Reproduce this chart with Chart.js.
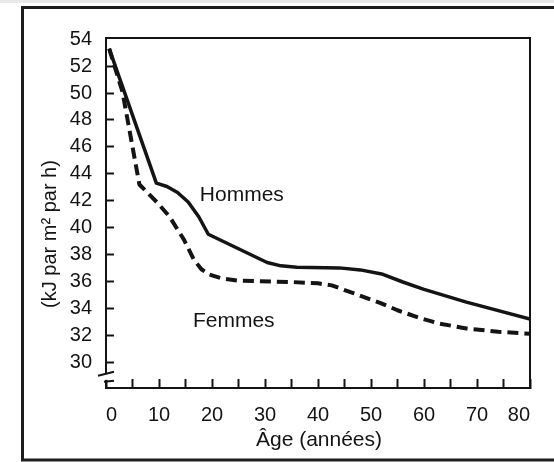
<!DOCTYPE html>
<html lang="fr">
<head>
<meta charset="utf-8">
<script src="https://cdn.jsdelivr.net/npm/chart.js@4.4.1/dist/chart.umd.min.js"></script>
<style>
  html, body { margin: 0; padding: 0; background: #fff; }
  canvas { display: block; }
</style>
</head>
<body>
<canvas id="metabolisme" width="554" height="462"></canvas>
<script>
// metabolisme de base selon l'age
const hommesAge = [0.6, 9.5, 11.5, 13.5, 15.5, 17.5, 19.3, 30.4, 33, 36, 44, 48, 52, 56, 60, 68, 80];
const hommesKJ  = [53.3, 43.3, 43.05, 42.6, 41.9, 40.8, 39.5, 37.4, 37.15, 37.05, 37.0, 36.85, 36.55, 35.95, 35.4, 34.45, 33.2];
const femmesAge = [0.6, 3.1, 6.3, 9.8, 12, 14.7, 16.6, 18, 19.5, 22, 25, 35, 40, 42.6, 46.8, 51.7, 55, 59, 63, 68, 74, 80];
const femmesKJ  = [53.3, 50.1, 43.2, 41.8, 40.8, 39.1, 37.6, 36.9, 36.5, 36.2, 36.05, 35.95, 35.85, 35.7, 35.1, 34.4, 33.85, 33.3, 32.85, 32.5, 32.25, 32.1];

const ageLabels = [0, 10, 20, 30, 40, 50, 60, 70, 80];
const kjLabels  = [30, 32, 34, 36, 38, 40, 42, 44, 46, 48, 50, 52, 54];

const INK = '#141414';
const FONT = '"Liberation Sans", Arial, Helvetica, sans-serif';

function points(xs, ys) {
    return xs.map((x, i) => ({ x: x, y: ys[i] }));
}

const decor = {
    id: 'decor',
    beforeDraw(chart) {
        const ctx = chart.ctx;
        ctx.save();
        ctx.fillStyle = '#fff';
        ctx.fillRect(0, 0, chart.width, chart.height);
        ctx.restore();
    },
    afterDraw(chart) {
        const ctx = chart.ctx;
        const a = chart.chartArea;
        const xs = chart.scales.x, ys = chart.scales.y;
        ctx.save();

        // faint smear along the top edge
        ctx.fillStyle = '#e8e8e8';
        ctx.fillRect(0, 0, chart.width, 3);

        // outer frame (open on the right)
        ctx.strokeStyle = '#1c1c1c';
        ctx.lineWidth = 3;
        ctx.beginPath();
        ctx.moveTo(chart.width, 7.5);
        ctx.lineTo(22.5, 7.5);
        ctx.lineTo(22.5, 460);
        ctx.lineTo(chart.width, 460);
        ctx.stroke();

        // top and right sides of the plot box
        ctx.strokeStyle = INK;
        ctx.lineWidth = 2;
        ctx.beginPath();
        ctx.moveTo(a.left, a.top);
        ctx.lineTo(a.right, a.top);
        ctx.lineTo(a.right, a.bottom);
        ctx.stroke();

        // axis break between 30 and the origin
        const yb = ys.getPixelForValue(28.9);
        ctx.fillStyle = '#fff';
        ctx.fillRect(a.left - 3, yb - 3, 6, 6);
        ctx.lineWidth = 2;
        ctx.beginPath();
        ctx.moveTo(a.left - 8, yb - 1);
        ctx.lineTo(a.left + 8, yb - 5);
        ctx.moveTo(a.left - 2, yb + 5);
        ctx.lineTo(a.left + 8, yb + 4);
        ctx.stroke();

        // series names
        ctx.fillStyle = INK;
        ctx.font = '21px ' + FONT;
        ctx.textBaseline = 'middle';
        ctx.textAlign = 'left';
        ctx.fillText('Hommes', xs.getPixelForValue(17.7), ys.getPixelForValue(42.4));
        ctx.fillText('Femmes', xs.getPixelForValue(16.4), ys.getPixelForValue(33.0));

        // axis titles
        ctx.font = '21px ' + FONT;
        ctx.textAlign = 'center';
        ctx.fillText('Âge (années)', 319, 440);
        ctx.font = '20px ' + FONT;
        ctx.translate(50, 234);
        ctx.rotate(-Math.PI / 2);
        ctx.fillText('(kJ par m² par h)', 0, 0);
        ctx.restore();
    }
};

new Chart(document.getElementById('metabolisme'), {
    type: 'line',
    data: {
        datasets: [{
            label: 'Hommes',
            data: points(hommesAge, hommesKJ),
            borderColor: INK,
            borderWidth: 3.5,
            borderJoinStyle: 'round',
            pointRadius: 0,
            tension: 0,
            fill: false
        }, {
            label: 'Femmes',
            data: points(femmesAge, femmesKJ),
            borderColor: INK,
            borderWidth: 4,
            borderDash: [11, 6],
            borderJoinStyle: 'round',
            pointRadius: 0,
            tension: 0,
            fill: false
        }]
    },
    options: {
        responsive: false,
        animation: false,
        devicePixelRatio: 1,
        layout: { padding: { left: 0, right: 9, top: 38, bottom: 0 } },
        plugins: {
            legend: { display: false },
            tooltip: { enabled: false }
        },
        scales: {
            x: {
                type: 'linear',
                min: 0,
                max: 80,
                afterFit: s => { s.height = 74; },
                border: { display: true, color: INK, width: 2 },
                grid: {
                    drawOnChartArea: false,
                    drawTicks: true,
                    tickLength: -9,
                    tickWidth: 2,
                    color: INK
                },
                ticks: {
                    stepSize: 5,
                    align: 'inner',
                    padding: 24,
                    maxRotation: 0,
                    autoSkip: false,
                    color: INK,
                    font: { family: FONT, size: 20 },
                    callback: v => ageLabels.includes(v) ? String(v) : ''
                }
            },
            y: {
                min: 28.07,
                max: 54.09,
                afterFit: s => { s.width = 106; },
                border: { display: true, color: INK, width: 2 },
                grid: {
                    drawOnChartArea: false,
                    drawTicks: true,
                    tickLength: -8,
                    tickWidth: 2,
                    color: ctx => ctx.tick && ctx.tick.value >= 54 ? 'rgba(0,0,0,0)' : INK
                },
                ticks: {
                    stepSize: 2,
                    includeBounds: false,
                    padding: 22,
                    autoSkip: false,
                    color: INK,
                    font: { family: FONT, size: 20 },
                    callback: v => kjLabels.includes(v) ? String(v) : ''
                }
            }
        }
    },
    plugins: [decor]
});
</script>
</body>
</html>
